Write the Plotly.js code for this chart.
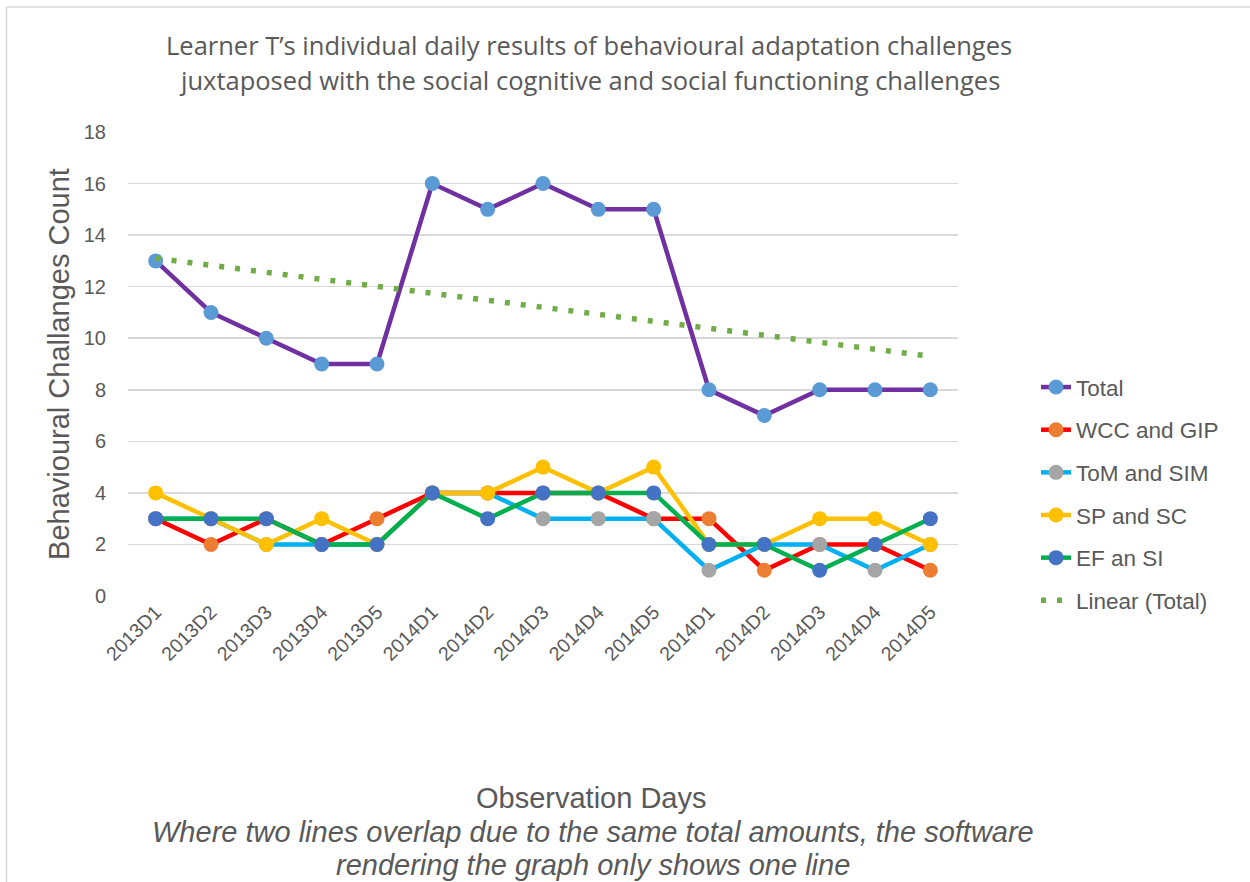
<!DOCTYPE html>
<html>
<head>
<meta charset="utf-8">
<script src="https://cdn.plot.ly/plotly-3.0.1.min.js"></script>
<style>html,body{margin:0;padding:0;background:#fff;}#chart{width:1250px;height:882px;}</style>
</head>
<body>
<div id="chart"></div>
<script>
const days = ["2013D1","2013D2","2013D3","2013D4","2013D5","2014D1","2014D2","2014D3","2014D4","2014D5","2014D1","2014D2","2014D3","2014D4","2014D5"];
const total = [13, 11, 10, 9, 9, 16, 15, 16, 15, 15, 8, 7, 8, 8, 8];
const wccGip = [3, 2, 3, 2, 3, 4, 4, 4, 4, 3, 3, 1, 2, 2, 1];
const tomSim = [3, 3, 2, 2, 2, 4, 4, 3, 3, 3, 1, 2, 2, 1, 2];
const spSc   = [4, 3, 2, 3, 2, 4, 4, 5, 4, 5, 2, 2, 3, 3, 2];
const efSi   = [3, 3, 3, 2, 2, 4, 3, 4, 4, 4, 2, 2, 1, 2, 3];

const idx = days.map((d, i) => i);

// Linear trendline of Total (least squares, as Excel's "Linear (Total)")
const n = total.length;
const mx = idx.reduce((a, b) => a + b, 0) / n;
const my = total.reduce((a, b) => a + b, 0) / n;
let sxy = 0, sxx = 0;
for (let i = 0; i < n; i++) { sxy += (idx[i] - mx) * (total[i] - my); sxx += (idx[i] - mx) ** 2; }
const slope = sxy / sxx;
const trend = idx.map(x => my + slope * (x - mx));

const FONT = "Liberation Sans, Arial, sans-serif";
const GREY = "#595959";

function series(name, y, lineColor, markerColor, group) {
  return {
    x: idx, y: y, name: name, type: "scatter", mode: "lines+markers",
    legendgroup: group,
    line: {color: lineColor, width: 4.5},
    marker: {color: markerColor, size: 15, line: {width: 0}}
  };
}

const traces = [
  series("Total", total, "#7030A0", "#5B9BD5", "g1"),
  series("WCC and GIP", wccGip, "#FF0000", "#ED7D31", "g2"),
  series("ToM and SIM", tomSim, "#00B0F0", "#A5A5A5", "g3"),
  series("SP and SC", spSc, "#FFC000", "#FFC000", "g4"),
  series("EF an SI", efSi, "#00B050", "#4472C4", "g5"),
  {
    x: idx, y: trend, name: "Linear (Total)", type: "scatter", mode: "lines",
    legendgroup: "g6",
    line: {color: "#70AD47", width: 5.5, dash: "5px,11px"}
  }
];

const layout = {
  width: 1250, height: 882,
  margin: {l: 128, r: 292, t: 132, b: 286},
  paper_bgcolor: "#fff", plot_bgcolor: "#fff",
  font: {family: FONT, color: GREY},
  showlegend: true,
  legend: {
    x: 1.094, xanchor: "left", y: 0.22, yanchor: "middle",
    font: {family: FONT, size: 22.5, color: GREY},
    tracegroupgap: 10.4, bgcolor: "rgba(0,0,0,0)"
  },
  xaxis: {
    range: [-0.5, 14.5],
    tickmode: "array", tickvals: idx, ticktext: days,
    tickangle: -45,
    tickfont: {family: FONT, size: 19.5, color: GREY},
    showgrid: false, zeroline: false, showline: false, ticks: ""
  },
  yaxis: {
    range: [0, 18], dtick: 2, tick0: 0,
    tickfont: {family: FONT, size: 20, color: GREY},
    gridcolor: "#D9D9D9", gridwidth: 1.5,
    zeroline: false, showline: false, ticks: "",
    ticklabelstandoff: 21,
    title: {text: "Behavioural Challanges Count", font: {family: FONT, size: 29, color: GREY}, standoff: 5}
  },
  annotations: [
    {xref: "paper", yref: "paper", x: (589 - 128) / 830, y: (596 - 45) / 464, xanchor: "center", yanchor: "middle",
     showarrow: false, text: "Learner T’s individual daily results of behavioural adaptation challenges",
     font: {family: "Open Sans, sans-serif", size: 25.5, color: GREY}},
    {xref: "paper", yref: "paper", x: (589 - 128) / 830, y: (596 - 80) / 464, xanchor: "center", yanchor: "middle",
     showarrow: false, text: "juxtaposed with the social cognitive and social functioning challenges",
     font: {family: "Open Sans, sans-serif", size: 25.5, color: GREY}},
    {xref: "paper", yref: "paper", x: (591 - 128) / 830, y: (596 - 798) / 464, xanchor: "center", yanchor: "middle",
     showarrow: false, text: "Observation Days",
     font: {family: FONT, size: 29, color: GREY}},
    {xref: "paper", yref: "paper", x: (593 - 128) / 830, y: (596 - 832) / 464, xanchor: "center", yanchor: "middle",
     showarrow: false, text: "<i>Where two lines overlap due to the same total amounts, the software</i>",
     font: {family: FONT, size: 29, color: GREY}},
    {xref: "paper", yref: "paper", x: (593 - 128) / 830, y: (596 - 865) / 464, xanchor: "center", yanchor: "middle",
     showarrow: false, text: "<i>rendering the graph only shows one line</i>",
     font: {family: FONT, size: 29, color: GREY}}
  ],
  shapes: [
    {type: "line", xref: "paper", yref: "paper", x0: (6.5 - 128) / 830, x1: (1260 - 128) / 830,
     y0: (596 - 7) / 464, y1: (596 - 7) / 464, line: {color: "#D9D9D9", width: 1.5}},
    {type: "line", xref: "paper", yref: "paper", x0: (6.5 - 128) / 830, x1: (6.5 - 128) / 830,
     y0: (596 - 7) / 464, y1: (596 - 900) / 464, line: {color: "#D9D9D9", width: 1.5}}
  ]
};

Plotly.newPlot("chart", traces, layout, {displayModeBar: false, staticPlot: true});
</script>
</body>
</html>
